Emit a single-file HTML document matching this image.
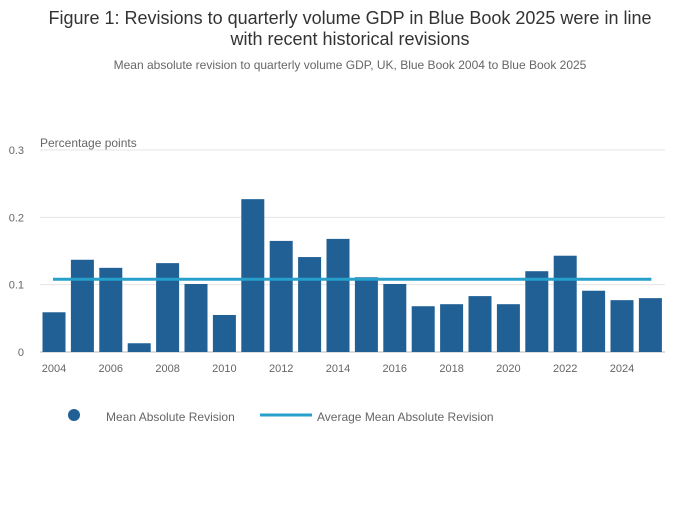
<!DOCTYPE html>
<html><head><meta charset="utf-8"><style>
body{margin:0;background:#fff;font-family:"Liberation Sans",sans-serif;}
</style></head><body>
<svg id="chart" width="700" height="502" xmlns="http://www.w3.org/2000/svg">
<text x="350" y="24" text-anchor="middle" font-size="18" fill="#333">Figure 1: Revisions to quarterly volume GDP in Blue Book 2025 were in line</text>
<text x="350" y="45" text-anchor="middle" font-size="18" fill="#333">with recent historical revisions</text>
<text x="350" y="69" text-anchor="middle" font-size="12" fill="#666">Mean absolute revision to quarterly volume GDP, UK, Blue Book 2004 to Blue Book 2025</text>
<text x="40" y="147" font-size="12" fill="#666">Percentage points</text>
<g id="grid"></g><g id="bars"></g><g id="xticks"></g><g id="avg"></g>
<g>
<circle cx="74" cy="415" r="6" fill="#206095"/>
<text x="106" y="421" font-size="12" fill="#666">Mean Absolute Revision</text>
<line x1="260" y1="415" x2="312" y2="415" stroke="#27a0cc" stroke-width="3"/>
<text x="317" y="421" font-size="12" fill="#666">Average Mean Absolute Revision</text>
</g>
</svg>
<script>
const years=[2004,2005,2006,2007,2008,2009,2010,2011,2012,2013,2014,2015,2016,2017,2018,2019,2020,2021,2022,2023,2024,2025];
const values=[0.059,0.137,0.125,0.013,0.132,0.101,0.055,0.227,0.165,0.141,0.168,0.111,0.101,0.068,0.071,0.083,0.071,0.120,0.143,0.091,0.077,0.080];
const average=0.108;
const yTicks=[0,0.1,0.2,0.3];
const yTickLabels=["0","0.1","0.2","0.3"];
const xTickYears=[2004,2006,2008,2010,2012,2014,2016,2018,2020,2022,2024];
const NS="http://www.w3.org/2000/svg";
const y=v=>352-v*673.3;
const x=yr=>54+(yr-2004)*28.4;
const g=document.getElementById('grid'),b=document.getElementById('bars'),xt=document.getElementById('xticks'),a=document.getElementById('avg');
function mk(t,at,p){const e=document.createElementNS(NS,t);for(const k in at)e.setAttribute(k,at[k]);p.appendChild(e);return e;}
yTicks.forEach((v,i)=>{
 const l=mk('line',{x1:40,x2:665,y1:y(v),y2:y(v),stroke:v===0?'#bbb':'#e5e5e5'},g);
 
 
 const t=mk('text',{x:24,y:y(v)+4,'text-anchor':'end','font-size':11,fill:'#666'},g);
 t.textContent=yTickLabels[i];
 
 
});
years.forEach((yr,i)=>{
 const r=mk('rect',{x:x(yr)-11.5,y:y(values[i]),width:23,height:y(0)-y(values[i]),fill:'#206095'},b);
 
 
});
xTickYears.forEach(yr=>{
 const t=mk('text',{x:x(yr),y:372,'text-anchor':'middle','font-size':11,fill:'#666'},xt);
 t.textContent=yr;
 
 
});
const al=mk('line',{x1:x(2004)-1,x2:x(2025)+1,y1:y(average),y2:y(average),stroke:'#27a0cc','stroke-width':3},a);


</script>
</body></html>
